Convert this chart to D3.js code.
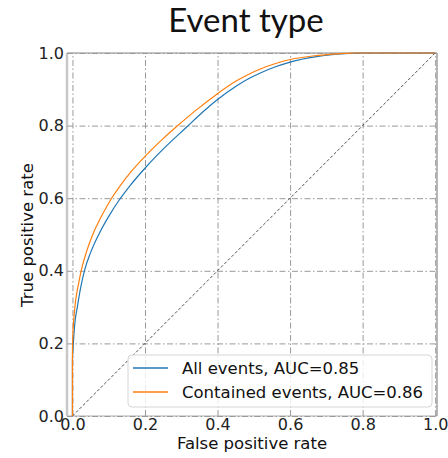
<!DOCTYPE html>
<html>
<head>
<meta charset="utf-8">
<script src="https://cdn.jsdelivr.net/npm/d3@7/dist/d3.min.js"></script>
<style>
  html, body { margin: 0; padding: 0; background: #fff; }
  svg { display: block; }
</style>
</head>
<body>
<svg id="chart" width="448" height="458"></svg>
<script>
const titleText = "Event type";
const xLabel = "False positive rate";
const yLabel = "True positive rate";
const tickValues = [0.0, 0.2, 0.4, 0.6, 0.8, 1.0];
const seriesNames = ["All events, AUC=0.85", "Contained events, AUC=0.86"];
const seriesColors = ["#1f77b4", "#ff7f0e"];

const allFpr = [0, 0, 0.0025, 0.006, 0.0135, 0.022, 0.033, 0.05, 0.074, 0.1, 0.129, 0.16, 0.203, 0.25, 0.315, 0.36, 0.4, 0.45, 0.489, 0.518, 0.56, 0.6, 0.673, 0.75, 0.8, 1.0];
const allTpr = [0, 0.15, 0.2, 0.25, 0.3, 0.35, 0.4, 0.45, 0.503, 0.55, 0.595, 0.636, 0.686, 0.735, 0.796, 0.838, 0.872, 0.908, 0.931, 0.945, 0.962, 0.975, 0.99, 0.998, 1.0, 1.0];

const conFpr = [0, 0, 0.001, 0.004, 0.009, 0.016, 0.024, 0.038, 0.056, 0.08, 0.108, 0.13, 0.16, 0.2, 0.25, 0.288, 0.34, 0.4, 0.45, 0.489, 0.518, 0.56, 0.6, 0.673, 0.75, 0.78, 1.0];
const conTpr = [0, 0.18, 0.22, 0.27, 0.32, 0.36, 0.4, 0.45, 0.5, 0.55, 0.6, 0.632, 0.671, 0.715, 0.764, 0.798, 0.842, 0.888, 0.922, 0.943, 0.956, 0.971, 0.982, 0.993, 0.999, 1.0, 1.0];

const series = [
  { name: seriesNames[0], color: seriesColors[0], pts: allFpr.map((f, i) => [f, allTpr[i]]) },
  { name: seriesNames[1], color: seriesColors[1], pts: conFpr.map((f, i) => [f, conTpr[i]]) }
];

const svg = d3.select("#chart");
const L = 67, R = 437, T = 53, B = 416;
const x = d3.scaleLinear().domain([-0.015, 1.005]).range([L, R]);
const y = d3.scaleLinear().domain([0, 1]).range([B, T]);

// title
svg.append("text")
  .attr("x", 246).attr("y", 32)
  .attr("text-anchor", "middle")
  .attr("font-family", "Lato, 'Open Sans', sans-serif")
  .attr("font-weight", 400)
  .attr("font-size", 33)
  .attr("fill", "#111")
  .text(titleText);

// spines
svg.append("line").attr("x1", L).attr("x2", L).attr("y1", T).attr("y2", B)
  .attr("stroke", "#c8c8c8").attr("stroke-width", 2.5);
svg.append("line").attr("x1", L).attr("x2", R).attr("y1", B).attr("y2", B)
  .attr("stroke", "#c8c8c8").attr("stroke-width", 1.5);
svg.append("line").attr("x1", L).attr("x2", R).attr("y1", T).attr("y2", T)
  .attr("stroke", "#888").attr("stroke-width", 1.2);
svg.append("line").attr("x1", R).attr("x2", R).attr("y1", T).attr("y2", B)
  .attr("stroke", "#888").attr("stroke-width", 1.2);

// grid via axes
const gx = svg.append("g").attr("transform", `translate(0,${B})`)
  .call(d3.axisBottom(x).tickValues(tickValues).tickSize(-(B - T)).tickFormat(""));
const gy = svg.append("g").attr("transform", `translate(${L},0)`)
  .call(d3.axisLeft(y).tickValues(tickValues).tickSize(-(R - L)).tickFormat(""));
[gx, gy].forEach(g => {
  g.select(".domain").remove();
  g.selectAll(".tick line").attr("stroke", "#999").attr("stroke-width", 1)
    .attr("stroke-dasharray", "6,2.5,1.5,2.5");
});

// tick labels via axes
const lx = svg.append("g").attr("transform", `translate(0,${B})`)
  .call(d3.axisBottom(x).tickValues(tickValues).tickSize(0).tickPadding(3).tickFormat(d3.format(".1f")));
const ly = svg.append("g").attr("transform", `translate(${L},0)`)
  .call(d3.axisLeft(y).tickValues(tickValues).tickSize(0).tickPadding(3).tickFormat(d3.format(".1f")));
[lx, ly].forEach(g => {
  g.select(".domain").remove();
  g.selectAll("text").attr("font-family", "'DejaVu Sans', sans-serif")
    .attr("font-size", 16).attr("fill", "#222");
});

// diagonal
svg.append("line")
  .attr("x1", x(0)).attr("y1", y(0)).attr("x2", x(1)).attr("y2", y(1))
  .attr("stroke", "#222").attr("stroke-width", 0.8).attr("stroke-dasharray", "3,2");

// curves
const line = d3.line().x(d => x(d[0])).y(d => y(d[1])).curve(d3.curveMonotoneX);
series.forEach(s => {
  svg.append("path").datum(s.pts)
    .attr("d", line)
    .attr("fill", "none")
    .attr("stroke", s.color)
    .attr("stroke-width", 1.2);
});

// legend
const lg = svg.append("g");
lg.append("rect").attr("x", 128).attr("y", 355).attr("width", 304).attr("height", 52)
  .attr("rx", 4).attr("fill", "#fff").attr("fill-opacity", 0.8)
  .attr("stroke", "#d6d6d6").attr("stroke-width", 1);
series.forEach((s, i) => {
  const yy = 368 + i * 24;
  lg.append("line").attr("x1", 133).attr("x2", 168).attr("y1", yy).attr("y2", yy)
    .attr("stroke", s.color).attr("stroke-width", 1.4);
  lg.append("text").attr("x", 182).attr("y", yy).attr("dy", "0.35em")
    .attr("font-family", "'DejaVu Sans', sans-serif").attr("font-size", 16.5)
    .attr("fill", "#111").text(s.name);
});

// axis labels
svg.append("text").attr("x", 252).attr("y", 449)
  .attr("text-anchor", "middle")
  .attr("font-family", "'DejaVu Sans', sans-serif").attr("font-size", 16.5)
  .attr("fill", "#111").text(xLabel);
svg.append("text").attr("transform", "translate(33,235) rotate(-90)")
  .attr("text-anchor", "middle")
  .attr("font-family", "'DejaVu Sans', sans-serif").attr("font-size", 16.5)
  .attr("fill", "#111").text(yLabel);
</script>
</body>
</html>
